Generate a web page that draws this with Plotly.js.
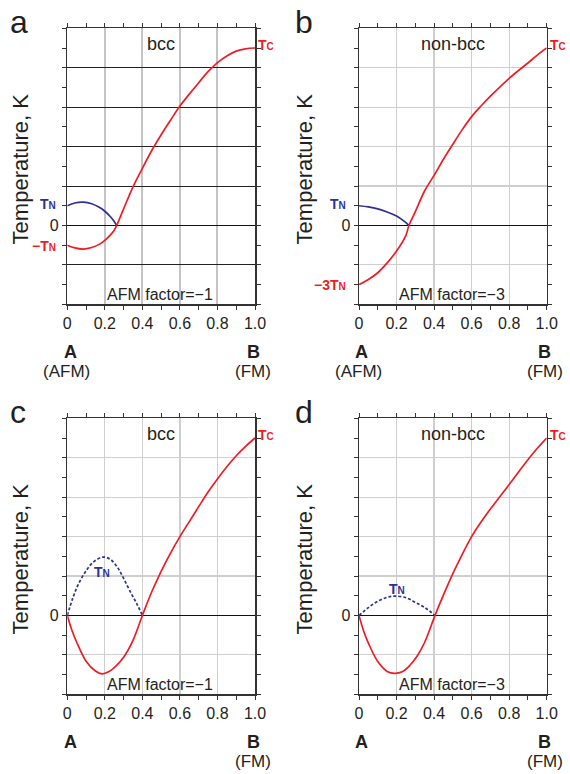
<!DOCTYPE html>
<html>
<head>
<meta charset="utf-8">
<script src="https://cdn.plot.ly/plotly-3.0.1.min.js"></script>
<style>html,body{margin:0;padding:0;background:#fff;}#chart{width:570px;height:774px;}</style>
</head>
<body>
<div id="chart"></div>
<script>
// ---- data ----
const xRedA = [0,0.04,0.085,0.13,0.17,0.2,0.23,0.25,0.263,0.3,0.35,0.4,0.45,0.5,0.55,0.6,0.65,0.7,0.75,0.8,0.85,0.9,0.95,1.0];
const yRedA = [-0.5,-0.57,-0.6,-0.56,-0.48,-0.38,-0.24,-0.12,0,0.42,0.98,1.45,1.9,2.3,2.67,3.03,3.33,3.62,3.9,4.13,4.3,4.42,4.48,4.5];
const xBlueA = [0,0.04,0.085,0.13,0.17,0.2,0.23,0.25,0.263];
const yBlueA = [0.5,0.57,0.59,0.55,0.46,0.36,0.22,0.1,0];

const xRedB = [0,0.05,0.1,0.15,0.2,0.25,0.266,0.3,0.35,0.4,0.45,0.5,0.55,0.6,0.65,0.7,0.75,0.8,0.85,0.9,0.95,1.0];
const yRedB = [-1.5,-1.37,-1.2,-0.95,-0.65,-0.25,0,0.35,0.88,1.27,1.68,2.06,2.43,2.76,3.03,3.28,3.51,3.73,3.93,4.12,4.32,4.5];
const xBlueB = [0,0.05,0.1,0.15,0.2,0.24,0.266];
const yBlueB = [0.5,0.47,0.42,0.34,0.24,0.11,0];

const xRedC = [0,0.025,0.05,0.1,0.15,0.185,0.22,0.26,0.3,0.35,0.4,0.45,0.5,0.55,0.6,0.65,0.7,0.75,0.8,0.85,0.9,0.95,1.0];
const yRedC = [0,-0.38,-0.68,-1.16,-1.41,-1.48,-1.43,-1.28,-1.06,-0.63,0,0.6,1.12,1.58,2.0,2.38,2.76,3.13,3.46,3.77,4.05,4.29,4.5];
const xBlueC = [0,0.03,0.06,0.1,0.14,0.19,0.23,0.27,0.3,0.34,0.37,0.4];
const yBlueC = [0,0.45,0.8,1.13,1.36,1.48,1.42,1.2,0.94,0.56,0.3,0];

const xRedD = [0,0.025,0.05,0.1,0.15,0.19,0.23,0.27,0.31,0.35,0.405,0.45,0.5,0.55,0.6,0.65,0.7,0.75,0.8,0.85,0.9,0.95,1.0];
const yRedD = [0,-0.4,-0.7,-1.17,-1.42,-1.47,-1.43,-1.27,-1.03,-0.68,0,0.52,1.06,1.55,2.0,2.37,2.7,3.01,3.32,3.64,3.95,4.24,4.5];
const xBlueD = [0,0.05,0.1,0.15,0.19,0.25,0.3,0.35,0.405];
const yBlueD = [0,0.2,0.36,0.46,0.49,0.45,0.33,0.2,0];

const xTickVals = [0,0.2,0.4,0.6,0.8,1.0];
const xTickText = ['0','0.2','0.4','0.6','0.8','1.0'];
const yTickVals = [-2,-1,0,1,2,3,4,5];
const yTickText = ['','','0','','','','',''];

const panelLetters = ['a','b','c','d'];
const structures = ['bcc','non-bcc','bcc','non-bcc'];
const afmFactors = ['AFM factor=\u22121','AFM factor=\u22123','AFM factor=\u22121','AFM factor=\u22123'];

// ---- styling ----
const RED = '#ee1d24';
const BLUE = '#2e3192';
const FONT = 'Liberation Sans, Arial, Helvetica, sans-serif';
const TXT = '#231f20';

const suf = ['', '2', '3', '4'];
const traces = [];
function add(x, y, color, dash, i) {
  traces.push({x: x, y: y, type: 'scatter', mode: 'lines',
    line: {color: color, width: 1.7, dash: dash, shape: 'spline', smoothing: 1.0},
    xaxis: 'x' + suf[i], yaxis: 'y' + suf[i], hoverinfo: 'skip', showlegend: false});
}
add(xBlueA, yBlueA, BLUE, 'solid', 0); add(xRedA, yRedA, RED, 'solid', 0);
add(xBlueB, yBlueB, BLUE, 'solid', 1); add(xRedB, yRedB, RED, 'solid', 1);
add(xBlueC, yBlueC, BLUE, '3px,2px', 2); add(xRedC, yRedC, RED, 'solid', 2);
add(xBlueD, yBlueD, BLUE, '3px,2px', 3); add(xRedD, yRedD, RED, 'solid', 3);

const W = 570, H = 774;
const xDom = [[67.3/W, 255/W], [359/W, 546.7/W]];
const yDom = [[1-304.3/H, 1-28.3/H], [1-694.3/H, 1-418.3/H]];

const layout = {width: W, height: H, margin: {l:0, r:0, t:0, b:0},
  paper_bgcolor: '#fff', plot_bgcolor: '#fff', showlegend: false, annotations: []};

for (let i = 0; i < 4; i++) {
  const col = i % 2, row = Math.floor(i / 2);
  const darkH = (i === 0);
  layout['xaxis' + suf[i]] = {
    domain: xDom[col], range: [0, 1], anchor: 'y' + suf[i],
    tickmode: 'array', tickvals: xTickVals, ticktext: xTickText,
    ticks: 'outside', ticklen: 4, tickwidth: 1, tickcolor: '#333',
    minor: {tickmode: 'linear', tick0: 0, dtick: 0.1, ticks: 'outside', ticklen: 4, tickwidth: 1, tickcolor: '#333', showgrid: false},
    showgrid: true, gridcolor: darkH ? '#c4c4c4' : '#cfcfcf', gridwidth: darkH ? 2 : 1.2,
    showline: true, linecolor: '#333', linewidth: 1.5, mirror: 'allticks', zeroline: false,
    tickfont: {family: FONT, size: 16, color: TXT}, fixedrange: true
  };
  layout['yaxis' + suf[i]] = {
    domain: yDom[row], range: [-2, 5], anchor: 'x' + suf[i],
    tickmode: 'array', tickvals: yTickVals, ticktext: yTickText,
    ticks: 'outside', ticklen: 4, tickwidth: 1, tickcolor: '#333',
    minor: {tickmode: 'linear', tick0: 0, dtick: 0.5, ticks: 'outside', ticklen: 4, tickwidth: 1, tickcolor: '#333', showgrid: false},
    showgrid: true, gridcolor: darkH ? '#222' : '#cfcfcf', gridwidth: darkH ? 1 : 1.2,
    zeroline: true, zerolinecolor: '#111', zerolinewidth: 1.2,
    showline: true, linecolor: '#333', linewidth: 1.5, mirror: 'allticks',
    tickfont: {family: FONT, size: 16, color: TXT}, fixedrange: true
  };
  const xr = 'x' + suf[i], yr = 'y' + suf[i];
  const A = layout.annotations;
  // panel letter
  A.push({xref: 'paper', yref: 'paper', x: (8 + col * 285) / W, y: 1 - ((row ? 406 : 16) + 6) / H,
    xanchor: 'left', yanchor: 'middle', text: panelLetters[i], showarrow: false,
    font: {family: FONT, size: 32, color: TXT}});
  // y title
  A.push({xref: 'paper', yref: 'paper', x: (20 + col * 284) / W, y: (yDom[row][0] + yDom[row][1]) / 2 - 0.004,
    xanchor: 'center', yanchor: 'middle', textangle: -90, text: 'Temperature, K', showarrow: false,
    font: {family: FONT, size: 22, color: TXT}});
  // structure
  A.push({xref: xr, yref: yr, x: 0.5, y: 4.6, text: structures[i], showarrow: false,
    xanchor: 'center', yanchor: 'middle', font: {family: FONT, size: 18, color: TXT}});
  // AFM factor
  A.push({xref: xr, yref: yr, x: 0.495, y: -1.75, text: afmFactors[i], showarrow: false,
    xanchor: 'center', yanchor: 'middle', font: {family: FONT, size: 16, color: TXT}});
  // Tc
  A.push({xref: xr, yref: yr, x: 1.0, y: 4.5, text: 'T<span style="font-size:10px">C</span>', showarrow: false,
    xanchor: 'left', yanchor: 'middle', xshift: 1, yshift: 3, font: {family: FONT, size: 14, color: RED, weight: 'bold'}});
  // A / B labels
  const yA = row ? 742 : 352;
  A.push({xref: xr, yref: 'paper', x: 0.015, y: 1 - yA / H, text: 'A', showarrow: false,
    xanchor: 'center', yanchor: 'middle', font: {family: FONT, size: 18, color: TXT, weight: 'bold'}});
  A.push({xref: xr, yref: 'paper', x: 0.99, y: 1 - yA / H, text: 'B', showarrow: false,
    xanchor: 'center', yanchor: 'middle', font: {family: FONT, size: 18, color: TXT, weight: 'bold'}});
  A.push({xref: xr, yref: 'paper', x: 0.99, y: 1 - (yA + 19.5) / H, text: '(FM)', showarrow: false,
    xanchor: 'center', yanchor: 'middle', font: {family: FONT, size: 17, color: TXT}});
  if (row === 0) {
    A.push({xref: xr, yref: 'paper', x: 0, y: 1 - (yA + 19.5) / H, text: '(AFM)', showarrow: false,
      xanchor: 'center', yanchor: 'middle', xshift: -1, font: {family: FONT, size: 17, color: TXT}});
  }
}
const Ann = layout.annotations;
function lbl(xr, yr, x, y, text, color, xanchor, xshift) {
  Ann.push({xref: xr, yref: yr, x: x, y: y, text: text, showarrow: false, xanchor: xanchor, yanchor: 'middle',
    xshift: xshift, font: {family: FONT, size: 14, color: color, weight: 'bold'}});
}
const TN = 'T<span style="font-size:10px">N</span>';
lbl('x', 'y', 0, 0.55, TN, BLUE, 'right', -9);
lbl('x', 'y', 0, -0.53, '\u2212' + TN, RED, 'right', -9);
lbl('x2', 'y2', 0, 0.55, TN, BLUE, 'right', -11);
lbl('x2', 'y2', 0, -1.5, '\u22123' + TN, RED, 'right', -11);
lbl('x3', 'y3', 0.185, 1.09, TN, BLUE, 'center', 0);
lbl('x4', 'y4', 0.2, 0.66, TN, BLUE, 'center', 0);

Plotly.newPlot('chart', traces, layout, {staticPlot: true});
</script>
</body>
</html>
